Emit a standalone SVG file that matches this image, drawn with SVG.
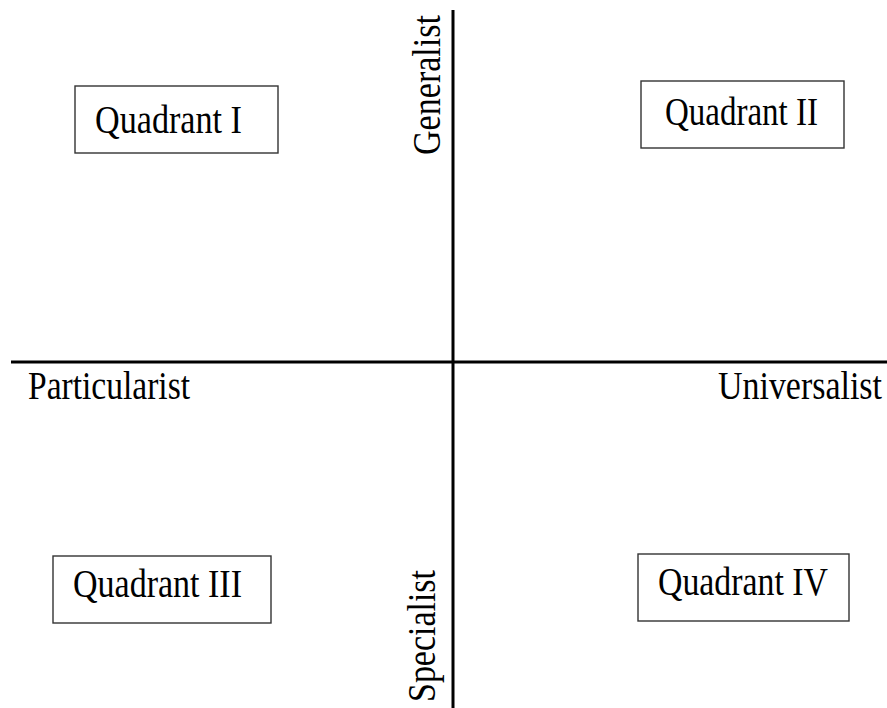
<svg xmlns="http://www.w3.org/2000/svg" width="887" height="708" viewBox="0 0 887 708">
<style>
.box{fill:#fff;stroke:#333;stroke-width:1.4}
.t{font-family:"Liberation Serif","Times New Roman",serif;font-size:40px;fill:#000}
.axis{stroke:#000;stroke-width:3;fill:none}
</style>
<rect width="887" height="708" fill="#fff"/>
<g id="connectors">
<line class="axis" x1="453" y1="10" x2="453" y2="708"/>
<line class="axis" x1="11" y1="362" x2="887" y2="362"/>
</g>
<g id="q1"><rect class="box" x="75" y="86" width="203" height="67"/><text class="t" x="95" y="133" textLength="147" lengthAdjust="spacingAndGlyphs">Quadrant I</text></g>
<g id="q2"><rect class="box" x="641" y="81" width="203" height="67"/><text class="t" x="665" y="125" textLength="153" lengthAdjust="spacingAndGlyphs">Quadrant II</text></g>
<g id="q3"><rect class="box" x="53" y="556" width="218" height="67"/><text class="t" x="73" y="597" textLength="169" lengthAdjust="spacingAndGlyphs">Quadrant III</text></g>
<g id="q4"><rect class="box" x="638" y="554" width="211" height="67"/><text class="t" x="658" y="595" textLength="170" lengthAdjust="spacingAndGlyphs">Quadrant IV</text></g>
<g id="generalist"><text class="t" transform="translate(440,155) rotate(-90)" textLength="140" lengthAdjust="spacingAndGlyphs">Generalist</text></g>
<g id="specialist"><text class="t" transform="translate(435,702) rotate(-90)" textLength="132" lengthAdjust="spacingAndGlyphs">Specialist</text></g>
<g id="particularist"><text class="t" x="28" y="399" textLength="162" lengthAdjust="spacingAndGlyphs">Particularist</text></g>
<g id="universalist"><text class="t" x="718" y="399" textLength="164" lengthAdjust="spacingAndGlyphs">Universalist</text></g>
</svg>
